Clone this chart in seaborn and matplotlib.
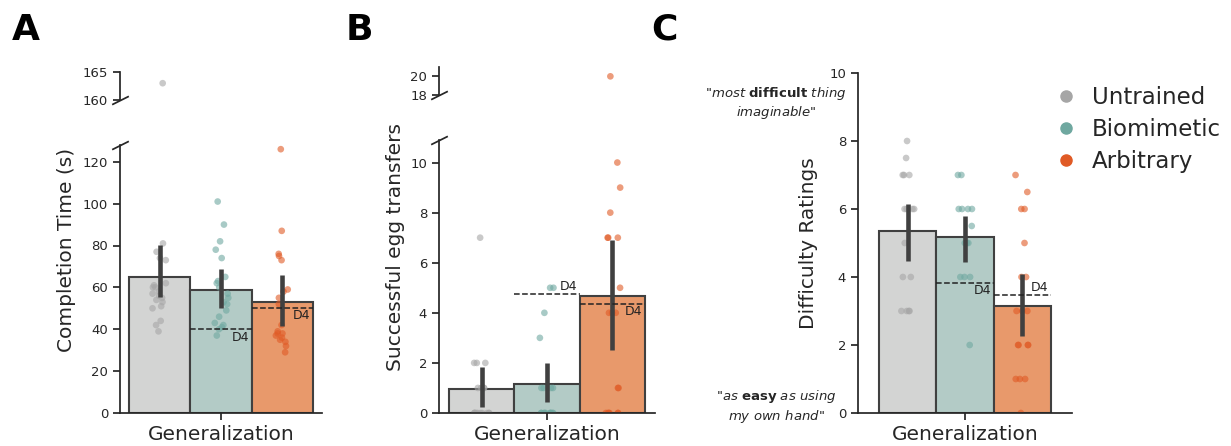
import numpy as np
import pandas as pd
import matplotlib
matplotlib.use("Agg")
import matplotlib.pyplot as plt
from matplotlib.lines import Line2D
import seaborn as sns

# ── data ─────────────────────────────────────────────
groups = ["Untrained", "Biomimetic", "Arbitrary"]
condition = "Generalization"

point_colors = ["#a6a6a6", "#6fa8a0", "#e05a25"]
bar_colors = ["#d3d4d3", "#b3cbc6", "#e8996b"]

# A - completion time (s)
time_untrained = [163, 81, 77, 74, 73, 62, 61, 60, 60, 58, 57, 56, 55, 54, 53, 51, 50, 44, 42, 39]
time_biomimetic = [101, 90, 82, 78, 74, 65, 63, 62, 60, 57, 55, 53, 52, 49, 46, 43, 42, 41, 40, 37]
time_arbitrary = [126, 87, 76, 75, 73, 59, 58, 55, 52, 42, 39, 38, 38, 37, 36, 35, 34, 32, 29]
time_mean = [65.0, 58.8, 53.0]
time_ci_low = [55.4, 50.2, 41.6]
time_ci_high = [80.3, 68.8, 66.0]
time_d4 = [None, 40.0, 50.2]
time_d4_side = [None, "below", "below"]

# B - successful egg transfers
egg_untrained = [7, 2, 2, 2, 1, 1, 1, 1, 0, 0, 0, 0, 0, 0, 0, 0, 0, 0]
egg_biomimetic = [5, 5, 4, 3, 1, 1, 1, 1, 0, 0, 0, 0, 0, 0, 0, 0, 0, 0]
egg_arbitrary = [20, 10, 9, 8, 7, 7, 7, 5, 4, 4, 4, 1, 1, 0, 0, 0, 0, 0, 0]
egg_mean = [0.94, 1.15, 4.66]
egg_ci_low = [0.25, 0.43, 2.51]
egg_ci_high = [1.82, 2.0, 6.92]
egg_d4 = [None, 4.74, 4.36]
egg_d4_side = [None, "above", "below"]

# C - difficulty ratings
rate_untrained = [8, 7.5, 7, 7, 7, 6, 6, 6, 6, 5, 4, 4, 3, 3, 3, 3]
rate_biomimetic = [7, 7, 6, 6, 6, 6, 5.5, 5, 5, 5, 4, 4, 4, 2]
rate_arbitrary = [7, 6.5, 6, 6, 5, 4, 4, 3, 3, 3, 2, 2, 2, 2, 1, 1, 1, 0]
rate_mean = [5.36, 5.17, 3.16]
rate_ci_low = [4.48, 4.45, 2.26]
rate_ci_high = [6.15, 5.79, 4.08]
rate_d4 = [None, 3.83, 3.46]
rate_d4_side = [None, "below", "above"]


def long_df(values_per_group):
    rows = []
    for g, vals in zip(groups, values_per_group):
        for v in vals:
            rows.append({"cond": condition, "group": g, "val": v})
    return pd.DataFrame(rows)


def mean_df(means):
    return pd.DataFrame({"cond": [condition] * 3, "group": groups, "val": means})


sns.set_style("ticks")
plt.rcParams["axes.linewidth"] = 1.25
plt.rcParams["axes.edgecolor"] = "#262626"
plt.rcParams["mathtext.fontset"] = "dejavusans"
np.random.seed(3)

W, H = 1231, 446
fig = plt.figure(figsize=(W / 100, H / 100), dpi=100)


def px_axes(left, right, top, bottom):
    return fig.add_axes([left / W, (H - bottom) / H, (right - left) / W, (bottom - top) / H])


def draw_panel(ax, points, means, lo, hi, d4, d4_side, xlim):
    sns.barplot(data=mean_df(means), x="cond", y="val", hue="group", hue_order=groups,
                palette=bar_colors, saturation=1, errorbar=None, edgecolor="#404040",
                linewidth=1.5, legend=False, ax=ax, zorder=1)
    sns.stripplot(data=long_df(points), x="cond", y="val", hue="group", hue_order=groups,
                  palette=point_colors, dodge=True, jitter=True, size=4.8, alpha=0.6,
                  linewidth=0, legend=False, ax=ax, zorder=2)
    bars = ax.patches[:3]
    for i, p in enumerate(bars):
        xc = p.get_x() + p.get_width() / 2
        ax.vlines(xc, lo[i], hi[i], color="#404040", lw=3.3, zorder=4)
        if d4[i] is not None:
            x0, x1 = p.get_x(), p.get_x() + p.get_width()
            ax.hlines(d4[i], x0, x1, colors="#222222", linestyles="--", lw=1.1, zorder=5)
            if d4_side[i] == "below":
                ax.annotate("D4", (x1, d4[i]), xytext=(-2, -1), textcoords="offset points",
                            ha="right", va="top", fontsize=9, color="#222222", zorder=6)
            else:
                ax.annotate("D4", (x1, d4[i]), xytext=(-2, 1), textcoords="offset points",
                            ha="right", va="bottom", fontsize=9, color="#222222", zorder=6)
    ax.set_xlim(xlim)
    ax.set_xlabel("")
    ax.set_ylabel("")
    ax.tick_params(axis="x", labelsize=14.5, length=5, width=1.25, colors="#262626")
    ax.tick_params(axis="y", labelsize=9.5, length=5, width=1.25, colors="#262626")
    sns.despine(ax=ax)


def draw_top(ax, points, ylim, yticks, xlim):
    sns.stripplot(data=long_df(points), x="cond", y="val", hue="group", hue_order=groups,
                  palette=point_colors, dodge=True, jitter=True, size=4.8, alpha=0.6,
                  linewidth=0, legend=False, ax=ax)
    ax.set_xlim(xlim)
    ax.set_ylim(ylim)
    ax.set_yticks(yticks)
    ax.set_xticks([])
    ax.set_xlabel("")
    ax.set_ylabel("")
    ax.tick_params(axis="y", labelsize=9.5, length=5, width=1.25, colors="#262626")
    sns.despine(ax=ax, bottom=True)


def break_mark(ax, y):
    ax.plot([0], [y], transform=ax.transAxes, marker=[(-1, -0.5), (1, 0.5)],
            markersize=12, linestyle="none", color="#262626", mec="#262626",
            mew=1.25, clip_on=False)


# ── panel A ──────────────────────────────────────────
axA = px_axes(120, 322, 145, 413)
draw_panel(axA, [time_untrained, time_biomimetic, time_arbitrary], time_mean,
           time_ci_low, time_ci_high, time_d4, time_d4_side, (-0.44, 0.44))
axA.set_ylim(0, 128)
axA.set_yticks(range(0, 121, 20))
axA_top = px_axes(120, 322, 72, 100)
draw_top(axA_top, [time_untrained, time_biomimetic, time_arbitrary], (160, 165), [160, 165], (-0.44, 0.44))
break_mark(axA, 1)
break_mark(axA_top, 0)

# ── panel B ──────────────────────────────────────────
axB = px_axes(439, 655, 140, 413)
draw_panel(axB, [egg_untrained, egg_biomimetic, egg_arbitrary], egg_mean,
           egg_ci_low, egg_ci_high, egg_d4, egg_d4_side, (-0.44, 0.44))
axB.set_ylim(0, 10.9)
axB.set_yticks(range(0, 11, 2))
axB_top = px_axes(439, 655, 67, 95)
draw_top(axB_top, [egg_untrained, egg_biomimetic, egg_arbitrary], (18, 21), [18, 20], (-0.44, 0.44))
break_mark(axB, 1)
break_mark(axB_top, 0)

# ── panel C ──────────────────────────────────────────
axC = px_axes(858, 1072, 73, 413)
draw_panel(axC, [rate_untrained, rate_biomimetic, rate_arbitrary], rate_mean,
           rate_ci_low, rate_ci_high, rate_d4, rate_d4_side, (-0.5, 0.5))
axC.set_ylim(0, 10)
axC.set_yticks(range(0, 11, 2))

fig.text(776 / W, (H - 103) / H,
         '"$\\it{most}$ $\\bf{difficult}$ $\\it{thing}$\n$\\it{imaginable}$"',
         ha="center", va="center", multialignment="center", fontsize=9.5, color="#262626")
fig.text(776 / W, (H - 406.5) / H,
         '"$\\it{as}$ $\\bf{easy}$ $\\it{as\\ using}$\n$\\it{my\\ own\\ hand}$"',
         ha="center", va="center", multialignment="center", fontsize=9.5, color="#262626")

# y labels
fig.text(67 / W, (H - 250) / H, "Completion Time (s)", rotation=90, ha="center", va="center",
         fontsize=14.5, color="#262626")
fig.text(395 / W, (H - 247) / H, "Successful egg transfers", rotation=90, ha="center", va="center",
         fontsize=14.5, color="#262626")
fig.text(809 / W, (H - 243) / H, "Difficulty Ratings", rotation=90, ha="center", va="center",
         fontsize=14.5, color="#262626")

# panel letters
for letter, xpix in zip(["A", "B", "C"], [12, 346, 651]):
    fig.text(xpix / W, (H - 40) / H, letter, fontsize=26, fontweight="heavy",
             color="black", va="baseline")

# legend
handles = [Line2D([], [], marker="o", linestyle="", color=c, markersize=8) for c in point_colors]
fig.legend(handles, groups, loc="upper left", bbox_to_anchor=(1055 / W, (H - 86) / H),
           frameon=False, fontsize=16.5, handlelength=1, handletextpad=0.6,
           labelspacing=0.4, borderpad=0, borderaxespad=0)

fig.savefig("out.png", dpi=100)
